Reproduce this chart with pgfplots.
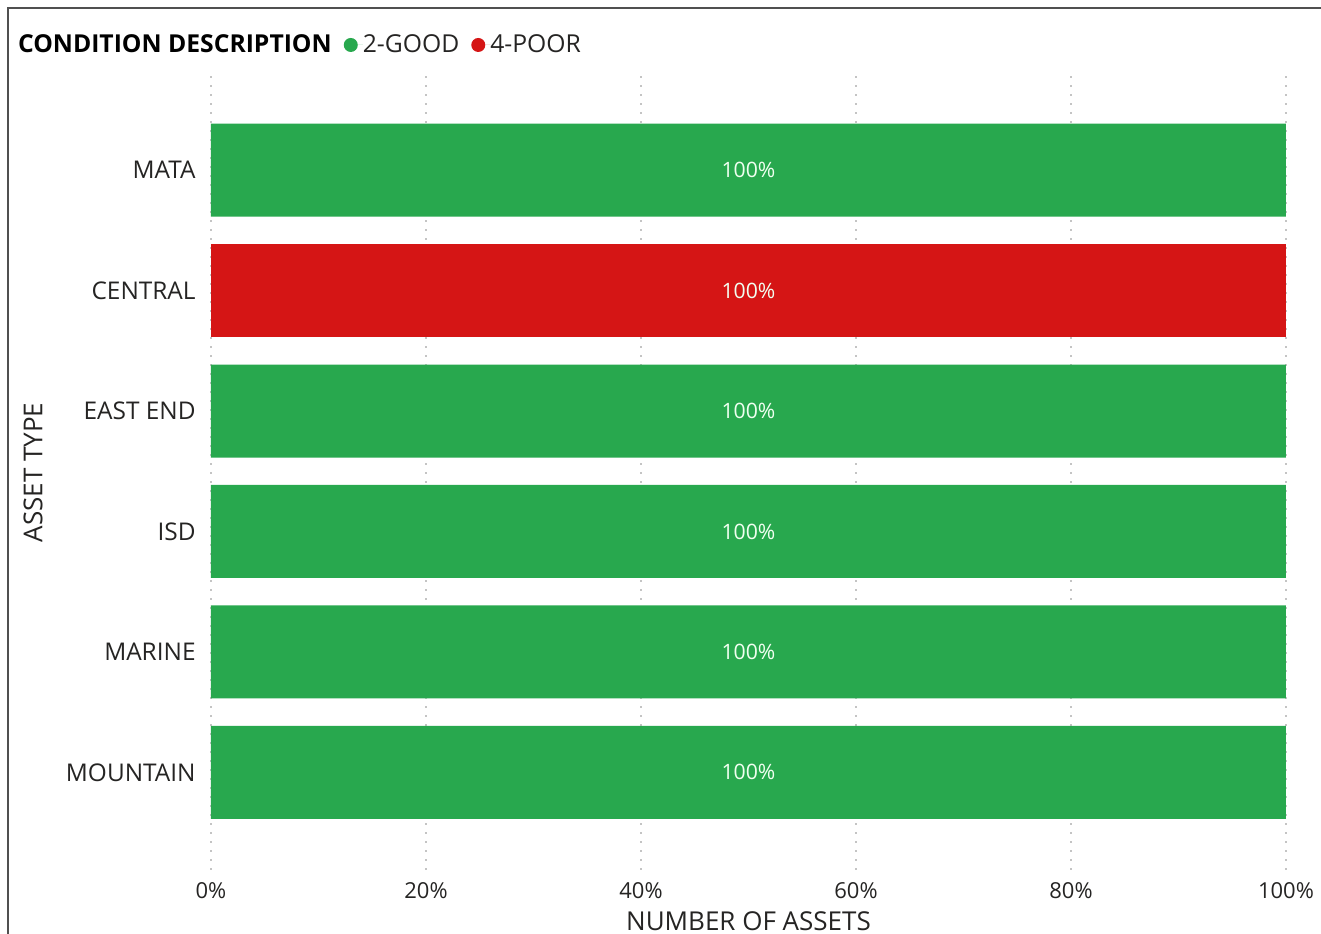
\documentclass[border=0pt]{standalone}
\usepackage{fontspec}
\setmainfont{Open Sans}
\usepackage{pgfplots}
\pgfplotsset{compat=1.18}
\definecolor{good}{HTML}{28A84E}
\definecolor{poor}{HTML}{D51515}
\definecolor{txt}{HTML}{252423}
\definecolor{gridc}{HTML}{C4C4C4}
\definecolor{framec}{HTML}{505050}
\begin{document}
\begin{tikzpicture}
\begin{axis}[
  scale only axis, width=537.5bp, height=397.5bp,
  xbar, bar width=46.5bp, bar shift=0pt,
  xmin=0, xmax=100, ymin=-0.81, ymax=5.79,
  xtick={0,20,40,60,80,100},
  xticklabels={0\%,20\%,40\%,60\%,80\%,100\%},
  ytick={0,1,2,3,4,5},
  yticklabels={MOUNTAIN,MARINE,ISD,EAST END,CENTRAL,MATA},
  axis line style={draw=none}, major tick length=0pt,
  xmajorgrids, grid style={gridc, line width=1bp, dash pattern=on 0.8bp off 3.7bp},
  xticklabel style={inner sep=0pt, yshift=-6bp, font=\fontsize{11bp}{13bp}\selectfont, text=txt},
  yticklabel style={inner sep=0pt, xshift=-7.5bp, font=\fontsize{12.2bp}{14bp}\selectfont, text=txt},
  /pgf/number format/assume math mode=true,
  xlabel={NUMBER OF ASSETS}, ylabel={ASSET TYPE},
  every axis x label/.style={at={(axis description cs:0.5,-0.0642)}, anchor=center,
    font=\fontsize{13bp}{15bp}\selectfont, text=txt},
  every axis y label/.style={at={(axis description cs:-0.1656,0.5)}, rotate=90, anchor=center,
    font=\fontsize{13bp}{15bp}\selectfont, text=txt},
  clip=false,
  legend columns=-1,
  legend style={at={(axis description cs:-0.1795,1.0377)}, anchor=west,
    draw=none, fill=none, inner sep=0pt, outer sep=0pt,
    font=\fontsize{12.35bp}{14bp}\selectfont, text=txt,
    nodes={inner sep=0pt},
    /tikz/every even column/.append style={column sep=6bp}},
  legend cell align=left,
]
\addlegendimage{legend image code/.code={}}
\addlegendentry{\textbf{\color{black}CONDITION DESCRIPTION}}
\addplot[fill=good, draw=none, legend image code/.code={\fill[good] (3.5bp,0) circle (3.5bp); \path (0,0) -- (9.5bp,0);}]
  coordinates {(100,5) (100,3) (100,2) (100,1) (100,0)};
\addlegendentry{2-GOOD}
\addplot[fill=poor, draw=none, legend image code/.code={\fill[poor] (3.5bp,0) circle (3.5bp); \path (0,0) -- (9.5bp,0);}]
  coordinates {(100,4)};
\addlegendentry{4-POOR}
\addplot[forget plot, only marks, mark=none, point meta=explicit symbolic,
  nodes near coords, every node near coord/.style={anchor=center, inner sep=0pt, text=white!94!green,
  font=\fontsize{10.6bp}{12bp}\selectfont}]
  coordinates {(50,5) [100\%] (50,4) [100\%] (50,3) [100\%] (50,2) [100\%] (50,1) [100\%] (50,0) [100\%]};
\draw[framec, line width=1.2bp] (rel axis cs:-0.1888,-0.0805) -- (rel axis cs:-0.1888,1.0843) -- (rel axis cs:1.0326,1.0843);
\coordinate (BL) at (rel axis cs:-0.19628,-0.0805);
\coordinate (TR) at (rel axis cs:1.0326,1.0943);
\end{axis}
\pgfresetboundingbox
\path[use as bounding box] (BL) rectangle (TR);
\end{tikzpicture}
\end{document}
